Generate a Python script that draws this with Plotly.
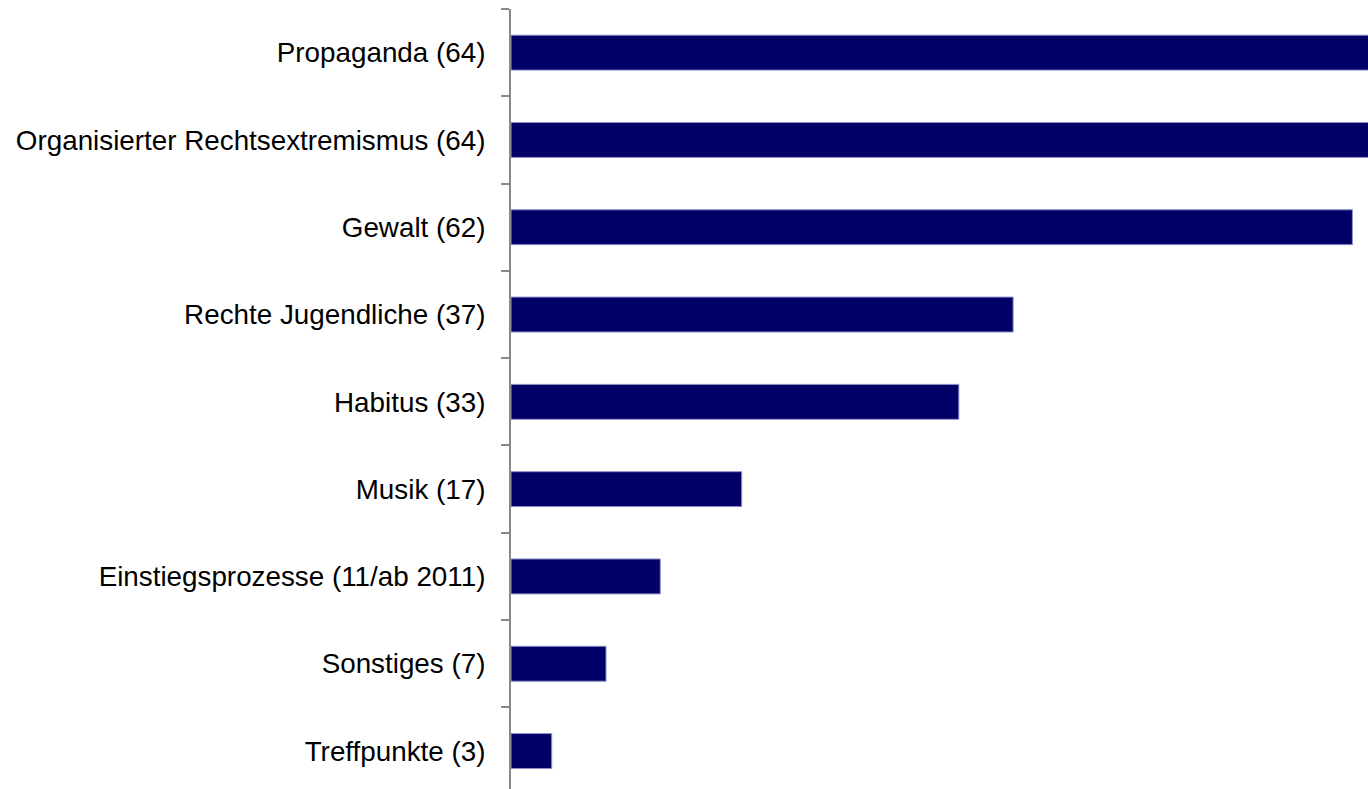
import plotly.graph_objects as go

categories = [
    "Treffpunkte (3)",
    "Sonstiges (7)",
    "Einstiegsprozesse (11/ab 2011)",
    "Musik (17)",
    "Habitus (33)",
    "Rechte Jugendliche (37)",
    "Gewalt (62)",
    "Organisierter Rechtsextremismus (64)",
    "Propaganda (64)",
]
values = [3, 7, 11, 17, 33, 37, 62, 64, 64]

fig = go.Figure(
    go.Bar(
        x=values,
        y=categories,
        orientation="h",
        width=0.40,
        marker=dict(color="#000066", line=dict(color="#8f8fc8", width=1)),
        hoverinfo="x+y",
    )
)

fig.update_layout(
    width=1368,
    height=789,
    margin=dict(l=511, r=0, t=9, b=0),
    paper_bgcolor="white",
    plot_bgcolor="white",
    showlegend=False,
    font=dict(family="Liberation Sans, Arial, sans-serif", size=27.8, color="black"),
    bargap=0.6,
)
fig.update_xaxes(
    range=[0, 63.15],
    visible=False,
    showgrid=False,
    zeroline=False,
)
fig.update_yaxes(
    type="category",
    categoryorder="array",
    categoryarray=categories,
    range=[-0.435, 8.5],
    showline=True,
    linecolor="#898989",
    linewidth=2,
    ticks="outside",
    tickson="boundaries",
    ticklen=8,
    tickwidth=2,
    tickcolor="#898989",
    ticklabelstandoff=18,
    showgrid=False,
    zeroline=False,
    tickfont=dict(family="Liberation Sans, Arial, sans-serif", size=27.8, color="black"),
)

fig.write_html("out.html")
